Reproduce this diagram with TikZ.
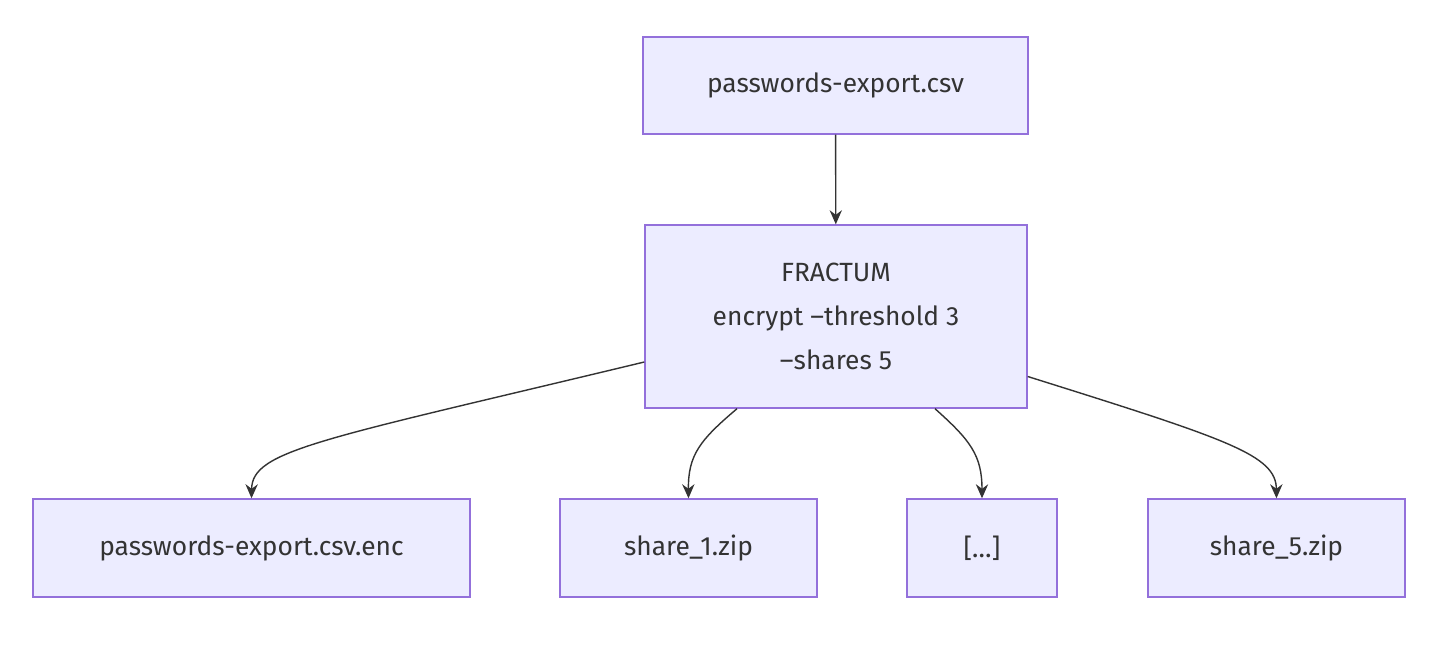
\documentclass[tikz,border=0pt]{standalone}
\usepackage{fontspec}
\setmainfont{Fira Sans}
\usetikzlibrary{arrows.meta,calc}
\definecolor{boxfill}{HTML}{ECECFF}
\definecolor{boxline}{HTML}{9370DB}
\definecolor{ink}{HTML}{333333}
\begin{document}
\begin{tikzpicture}[x=0.02cm,y=-0.02cm,
	box/.style={draw=boxline,fill=boxfill,line width=0.8pt,text=ink,
		font=\fontsize{15}{25}\selectfont,align=center,inner sep=0pt},
	link/.style={draw=ink,line width=0.8pt,-{Stealth[length=8pt,width=7pt]}}]
	\useasboundingbox (0,0) rectangle (1444,666);

	% boxes
	\node[box,minimum width=385*0.02cm,minimum height=97*0.02cm] (csv) at (835.5,85.5) {passwords-export.csv};
	\node[box,minimum width=382*0.02cm,minimum height=183*0.02cm] (frac) at (836,316.5) {FRACTUM\\encrypt --threshold 3\\--shares 5};
	\node[box,minimum width=437*0.02cm,minimum height=98*0.02cm] (enc) at (251.5,548) {passwords-export.csv.enc};
	\node[box,minimum width=257*0.02cm,minimum height=98*0.02cm] (sa) at (688.5,548) {share\_1.zip};
	\node[box,minimum width=150*0.02cm,minimum height=98*0.02cm] (dots) at (982,548) {[…]};
	\node[box,minimum width=257*0.02cm,minimum height=98*0.02cm] (sb) at (1276.5,548) {share\_5.zip};

	% links
	\coordinate (p1) at ($(frac.west)+(0,45.5)$);
	\coordinate (p2) at ($(frac.south)+(-99,0)$);
	\coordinate (p3) at ($(frac.south)+(99,0)$);
	\coordinate (p4) at ($(frac.east)+(0,60)$);
	\draw[link] (csv) -- (frac);
	\draw[link] (p1) .. controls (320,440) and (252,450) .. (enc.north);
	\draw[link] (p2) .. controls (700,440) and (688,455) .. (sa.north);
	\draw[link] (p3) .. controls (970,440) and (982,455) .. (dots.north);
	\draw[link] (p4) .. controls (1230,440) and (1276,455) .. (sb.north);
\end{tikzpicture}
\end{document}
